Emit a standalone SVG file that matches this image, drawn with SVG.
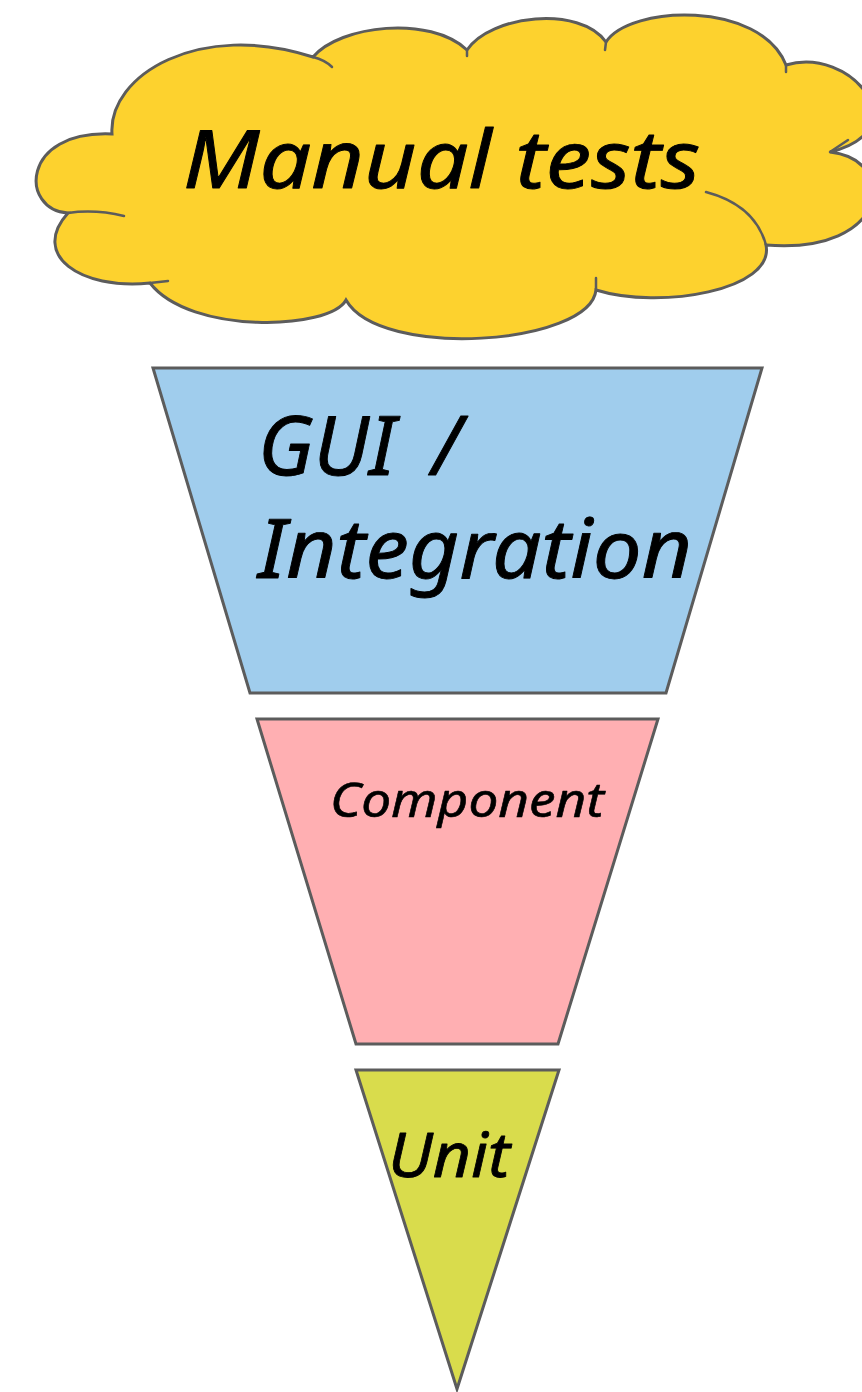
<svg xmlns="http://www.w3.org/2000/svg" width="862" height="1392" viewBox="0 0 862 1392">
  <style>
    .shape { stroke: #5c5c5c; stroke-width: 3; stroke-linejoin: miter; }
    .inner { fill: none; stroke: #5c5c5c; stroke-width: 2.5; stroke-linecap: round; }
    .lbl { font-family: "Noto Sans", "DejaVu Sans", sans-serif; font-style: italic; fill: #000; stroke: #000; stroke-width: 0.9; stroke-linejoin: round; }
  </style>
  <rect width="862" height="1392" fill="#ffffff"/>

  <g id="manual-tests">
    <path class="shape" fill="#fdd22e" d="M112,134 C108,75 200,20 313,57 C340,25 430,15 467,50 C490,15 580,5 606,42 C630,5 760,0 786,65 C850,45 920,130 830,152 C900,160 890,255 766,245 C775,290 660,310 596,290 C590,345 380,360 346,300 C330,330 190,335 150,283 C80,290 30,255 68,213 C20,210 20,130 112,134 Z"/>
    <path class="inner" d="M68,213 Q95,209 124,216"/>
    <path class="inner" d="M313,57 Q325,60 332,67"/>
    <path class="inner" d="M467,50 L467,56"/>
    <path class="inner" d="M606,42 L605,50"/>
    <path class="inner" d="M786,65 L786,72"/>
    <path class="inner" d="M830,152 L848,140"/>
    <path class="inner" d="M706,192 Q755,205 766,245"/>
    <path class="inner" d="M596,290 L596,278"/>
    <path class="inner" d="M150,283 L168,281"/>
    <text class="lbl" x="183" y="188" font-size="80" textLength="517" lengthAdjust="spacingAndGlyphs">Manual tests</text>
  </g>

  <g id="gui-integration">
    <polygon class="shape" fill="#a0cded" points="153,368 762,368 666,693 250,693"/>
    <text class="lbl" x="258" y="475" font-size="82">GUI <tspan x="432">/</tspan></text>
    <text class="lbl" x="258" y="578" font-size="82" textLength="434" lengthAdjust="spacingAndGlyphs">Integration</text>
  </g>

  <g id="component">
    <polygon class="shape" fill="#ffafb2" points="257,719 658,719 558,1044 356,1044"/>
    <text class="lbl" x="330" y="817" font-size="48" textLength="274" lengthAdjust="spacingAndGlyphs" style="stroke-width:0.6">Component</text>
  </g>

  <g id="unit">
    <polygon class="shape" fill="#d9dc4c" points="356,1070 559,1070 457,1389"/>
    <text class="lbl" x="388" y="1177" font-size="62" textLength="122" lengthAdjust="spacingAndGlyphs" style="stroke-width:0.8">Unit</text>
  </g>

  <g id="connectors"></g>
</svg>
